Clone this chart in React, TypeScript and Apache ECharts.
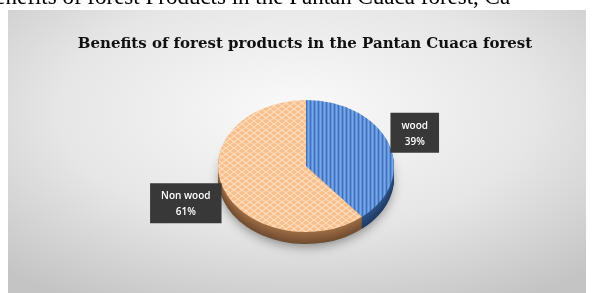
import React, { useEffect, useRef } from "react";
import * as echarts from "echarts";

const categories: string[] = ["wood", "Non wood"];
const values: number[] = [39, 61];
const percentLabels: string[] = ["39%", "61%"];
const chartTitle = "Benefits of forest products in the Pantan Cuaca forest";
const captionText = "Benefits of forest Products in the Pantan Cuaca forest, Ca";

const sideColors: number[][] = [
  [46, 84, 138],
  [160, 110, 70],
];

function shade(rgb: number[], f: number): string {
  return "rgb(" + rgb.map((c) => Math.round(c * f)).join(",") + ")";
}

function makePattern(kind: number): string {
  const c = document.createElement("canvas");
  if (kind === 0) {
    c.width = 4;
    c.height = 4;
    const g = c.getContext("2d")!;
    g.fillStyle = "#5E93DB";
    g.fillRect(0, 0, 4, 4);
    g.fillStyle = "#3F71BC";
    g.fillRect(0, 0, 1, 4);
    g.fillStyle = "#7AA6E4";
    g.fillRect(2, 0, 1, 4);
  } else {
    c.width = 8;
    c.height = 8;
    const g = c.getContext("2d")!;
    g.fillStyle = "#F9BE8A";
    g.fillRect(0, 0, 8, 8);
    g.strokeStyle = "#FDE2C8";
    g.lineWidth = 1.2;
    g.beginPath();
    g.moveTo(0, 0);
    g.lineTo(8, 8);
    g.moveTo(-4, 4);
    g.lineTo(4, 12);
    g.moveTo(4, -4);
    g.lineTo(12, 4);
    g.moveTo(8, 0);
    g.lineTo(0, 8);
    g.moveTo(4, -4);
    g.lineTo(-4, 4);
    g.moveTo(12, 4);
    g.lineTo(4, 12);
    g.stroke();
  }
  return c.toDataURL();
}

function measure(text: string, font: string): number {
  const c = document.createElement("canvas");
  const g = c.getContext("2d")!;
  g.font = font;
  return Math.max(...text.split("\n").map((t) => g.measureText(t).width));
}

export default function App() {
  const ref = useRef<HTMLDivElement>(null);
  useEffect(() => {
    if (!ref.current) return;
    const chart = echarts.init(ref.current, undefined, { renderer: "svg" });
    const total = values.reduce((a, b) => a + b, 0);
    const starts: number[] = [];
    let acc = 0;
    values.forEach((v) => {
      starts.push(acc);
      acc += v;
    });
    const patterns = [makePattern(0), makePattern(1)];
    const cx = 306;
    const cy = 166;
    const rx = 88;
    const ry = 66;
    const depth = 12;
    const labelFont = "600 10px 'Open Sans'";
    const padX = 11;

    const option: any = {
      animation: false,
      graphic: [
        {
          type: "rect",
          shape: { x: 8, y: 10, width: 578, height: 290 },
          style: {
            fill: {
              type: "radial",
              x: 0.5,
              y: 0.35,
              r: 0.75,
              colorStops: [
                { offset: 0, color: "#FAFAFA" },
                { offset: 0.55, color: "#E6E6E6" },
                { offset: 1, color: "#C4C4C4" },
              ],
            },
          },
          z: -10,
        },
        {
          type: "text",
          x: -20,
          y: -4,
          style: {
            text: captionText,
            font: "23px 'Liberation Serif'",
            fill: "#000",
            verticalAlign: "middle",
          },
        },
        {
          type: "text",
          x: 305,
          y: 43,
          style: {
            text: chartTitle,
            font: "bold 15px 'DejaVu Serif'",
            fill: "#111",
            align: "center",
            verticalAlign: "middle",
          },
        },
      ],
      series: [
        {
          type: "custom",
          coordinateSystem: "none",
          data: values,
          renderItem: (params: any, api: any) => {
            const i = params.dataIndex;
            const v = api.value(0);
            const a0 = -Math.PI / 2 + (starts[i] / total) * Math.PI * 2;
            const a1 = a0 + (v / total) * Math.PI * 2;
            const children: any[] = [];
            const s = ry / rx;
            if (i === 0) {
              children.push({
                type: "ellipse",
                shape: { cx, cy: cy + depth, rx: rx - 2, ry: ry - 2 },
                style: {
                  fill: "#8a8a8a",
                  shadowBlur: 12,
                  shadowColor: "rgba(0,0,0,0.45)",
                  shadowOffsetY: 4,
                },
                z2: 0,
              });
            }
            for (let d = depth; d >= 1; d--) {
              children.push({
                type: "group",
                x: cx,
                y: cy + d,
                scaleY: s,
                children: [
                  {
                    type: "sector",
                    shape: { cx: 0, cy: 0, r0: 0, r: rx, startAngle: a0, endAngle: a1 },
                    style: {
                      fill: shade(sideColors[i], 1 - 0.3 * (d / depth)),
                    },
                    z2: 1,
                  },
                ],
              });
            }
            children.push({
              type: "group",
              x: cx,
              y: cy,
              scaleY: s,
              children: [
                {
                  type: "sector",
                  shape: { cx: 0, cy: 0, r0: 0, r: rx, startAngle: a0, endAngle: a1 },
                  style: {
                    fill: { image: patterns[i], repeat: "repeat" },
                  },
                  z2: 10,
                },
              ],
            });
            const mid = (a0 + a1) / 2 + Math.PI / 2;
            const sx = Math.sin(mid);
            const txt = categories[i] + "\n" + percentLabels[i];
            const w = measure(txt, labelFont) + padX * 2;
            const edge = cx + sx * rx * 1.02;
            const lx = sx >= 0 ? edge + w / 2 : edge - w / 2;
            const ly = cy + 2 - Math.cos(mid) * ry * 1.58;
            children.push({
              type: "text",
              x: lx,
              y: ly,
              z2: 20,
              style: {
                text: txt,
                font: labelFont,
                fill: "#FFFFFF",
                lineHeight: 16,
                align: "center",
                verticalAlign: "middle",
                backgroundColor: "#383838",
                padding: [4, padX, 4, padX],
                boxShadowBlur: 5,
                boxShadowColor: "rgba(0,0,0,0.45)",
                boxShadowOffsetX: 2,
                boxShadowOffsetY: 2,
              },
            });
            return { type: "group", children };
          },
        },
      ],
    };
    chart.setOption(option);
    return () => chart.dispose();
  }, []);
  return (
    <div
      ref={ref}
      style={{ position: "fixed", left: 0, top: 0, width: 593, height: 293 }}
    />
  );
}
